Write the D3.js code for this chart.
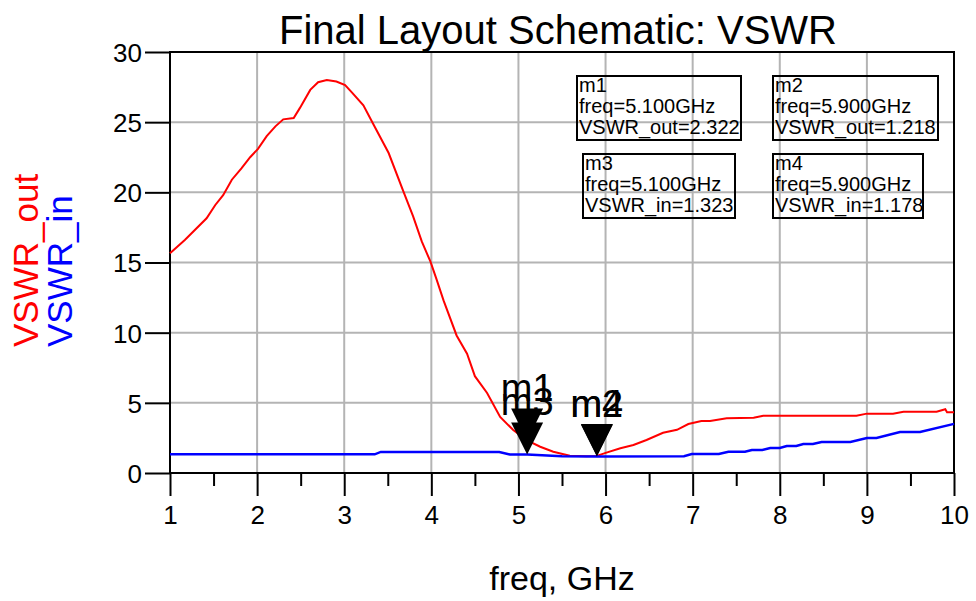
<!DOCTYPE html>
<html>
<head>
<meta charset="utf-8">
<script src="https://cdn.jsdelivr.net/npm/d3@7"></script>
<style>
  body { margin: 0; background: #fff; }
  text { font-family: "Liberation Sans", Arial, sans-serif; }
</style>
</head>
<body>
<div id="chart"></div>
<script>
// data
const outFreq = [1.00, 1.17, 1.42, 1.52, 1.61, 1.71, 1.82, 1.92, 2.01, 2.11, 2.21, 2.30, 2.42, 2.49, 2.61, 2.70, 2.80, 2.91, 3.01, 3.09, 3.22, 3.33, 3.51, 3.68, 3.79, 3.89, 3.99, 4.06, 4.14, 4.29, 4.41, 4.50, 4.64, 4.79, 4.94, 5.10, 5.25, 5.40, 5.59, 5.78, 5.90, 6.01, 6.17, 6.32, 6.47, 6.66, 6.82, 6.95, 7.10, 7.20, 7.39, 7.70, 7.81, 8.88, 9.00, 9.30, 9.42, 9.80, 9.90, 9.92, 10.0];
const outVswr = [15.66, 16.6, 18.15, 19.1, 19.8, 20.9, 21.7, 22.5, 23.1, 24.0, 24.7, 25.2, 25.3, 26.0, 27.3, 27.85, 28.0, 27.9, 27.65, 27.1, 26.2, 24.9, 22.8, 20.05, 18.3, 16.5, 15.06, 13.8, 12.3, 9.8, 8.5, 6.9, 5.7, 4.0, 3.06, 2.32, 1.87, 1.52, 1.23, 1.2, 1.22, 1.45, 1.76, 2.0, 2.35, 2.87, 3.08, 3.49, 3.7, 3.7, 3.9, 3.94, 4.08, 4.08, 4.23, 4.23, 4.37, 4.37, 4.54, 4.33, 4.33];

const inFreq = [1.0, 3.35, 3.42, 4.78, 4.90, 5.10, 5.50, 5.90, 6.90, 6.99, 7.30, 7.41, 7.60, 7.68, 7.80, 7.89, 8.00, 8.08, 8.19, 8.27, 8.38, 8.48, 8.81, 9.00, 9.11, 9.38, 9.61, 10.0];
const inVswr = [1.33, 1.33, 1.5, 1.5, 1.32, 1.323, 1.2, 1.178, 1.2, 1.35, 1.35, 1.52, 1.52, 1.64, 1.64, 1.78, 1.78, 1.92, 1.92, 2.07, 2.07, 2.21, 2.21, 2.49, 2.49, 2.92, 2.92, 3.5];

const markerNames = ["m1", "m2", "m3", "m4"];
const markerFreq = [5.1, 5.9, 5.1, 5.9];
const markerVal = [2.322, 1.218, 1.323, 1.178];
const markerSeries = ["VSWR_out", "VSWR_out", "VSWR_in", "VSWR_in"];

const xTicks = [1, 2, 3, 4, 5, 6, 7, 8, 9, 10];
const xMinorTicks = [1.5, 2.5, 3.5, 4.5, 5.5, 6.5, 7.5, 8.5, 9.5];
const yTicks = [0, 5, 10, 15, 20, 25, 30];

const W = 976, H = 601;
const margin = { top: 52, right: 22, bottom: 128, left: 170 };
const width = W - margin.left - margin.right;
const height = H - margin.top - margin.bottom;

const svg = d3.select("#chart").append("svg")
    .attr("width", W)
    .attr("height", H);

const g = svg.append("g")
    .attr("transform", `translate(${margin.left}, ${margin.top})`);

const x = d3.scaleLinear().domain([1, 10]).range([0, width]);
const y = d3.scaleLinear().domain([0, 30]).range([height, 0]);

// grid
g.append("g").selectAll("line")
    .data(xTicks.slice(1, -1))
    .join("line")
    .attr("x1", d => x(d)).attr("x2", d => x(d))
    .attr("y1", 0).attr("y2", height)
    .attr("stroke", "#b4b4b4").attr("stroke-width", 2);

g.append("g").selectAll("line")
    .data(yTicks.slice(1, -1))
    .join("line")
    .attr("x1", 0).attr("x2", width)
    .attr("y1", d => y(d)).attr("y2", d => y(d))
    .attr("stroke", "#b4b4b4").attr("stroke-width", 2);

// axes
const xAxis = g.append("g")
    .attr("transform", `translate(0, ${height})`)
    .call(d3.axisBottom(x).tickValues(xTicks).tickSize(23).tickSizeOuter(0).tickPadding(10).tickFormat(d3.format("d")));

g.append("g")
    .attr("transform", `translate(0, ${height})`)
    .call(d3.axisBottom(x).tickValues(xMinorTicks).tickSize(13).tickSizeOuter(0).tickFormat(""))
    .call(a => a.select(".domain").remove());

const yAxis = g.append("g")
    .call(d3.axisLeft(y).tickValues(yTicks).tickSize(25).tickSizeOuter(0).tickPadding(3));

g.selectAll(".tick line").attr("stroke", "#000").attr("stroke-width", 2);
g.selectAll(".domain").remove();
g.selectAll(".tick text")
    .attr("fill", "#000")
    .style("font-size", "26px")
    .style("font-family", "'Liberation Sans', Arial, sans-serif");
yAxis.selectAll(".tick text").attr("dy", "0.36em");

// frame
g.append("rect")
    .attr("width", width).attr("height", height)
    .attr("fill", "none").attr("stroke", "#000").attr("stroke-width", 2);

// lines
const line = d3.line()
    .x(d => x(d[0]))
    .y(d => y(d[1]));

g.append("path")
    .datum(d3.zip(outFreq, outVswr))
    .attr("fill", "none")
    .attr("stroke", "#ff0000")
    .attr("stroke-width", 2)
    .attr("d", line);

g.append("path")
    .datum(d3.zip(inFreq, inVswr))
    .attr("fill", "none")
    .attr("stroke", "#0000ff")
    .attr("stroke-width", 2.5)
    .attr("d", line);

// marker triangles + labels
const triH = 32, triW = 32;
markerNames.forEach((name, i) => {
    const mx = x(markerFreq[i]), my = y(markerVal[i]);
    g.append("path")
        .attr("d", `M${mx},${my} L${mx - triW / 2},${my - triH} L${mx + triW / 2},${my - triH} Z`)
        .attr("fill", "#000");
    g.append("text")
        .attr("x", mx)
        .attr("y", my - triH - 7)
        .attr("text-anchor", "middle")
        .style("font-size", "38px")
        .text(name);
});

// marker readout boxes (positions in plot coords)
const boxes = [
    { x: 407, y: 24, w: 164, h: 64 },
    { x: 603, y: 24, w: 165, h: 64 },
    { x: 413, y: 102, w: 152, h: 64 },
    { x: 603, y: 102, w: 150, h: 64 }
];
markerNames.forEach((name, i) => {
    const b = boxes[i];
    g.append("rect")
        .attr("x", b.x).attr("y", b.y)
        .attr("width", b.w).attr("height", b.h)
        .attr("fill", "none").attr("stroke", "#000").attr("stroke-width", 2);
    const lines = [name, `freq=${markerFreq[i].toFixed(3)}GHz`, `${markerSeries[i]}=${markerVal[i].toFixed(3)}`];
    g.append("text")
        .attr("x", b.x + 2)
        .attr("y", b.y + 16)
        .style("font-size", "20px")
        .selectAll("tspan")
        .data(lines)
        .join("tspan")
        .attr("x", b.x + 2)
        .attr("dy", (d, j) => j === 0 ? 0 : 21)
        .text(d => d);
});

// title and axis labels
svg.append("text")
    .attr("x", margin.left + width / 2 - 4)
    .attr("y", 44)
    .attr("text-anchor", "middle")
    .style("font-size", "40px")
    .text("Final Layout Schematic: VSWR");

svg.append("text")
    .attr("x", margin.left + width / 2)
    .attr("y", 590)
    .attr("text-anchor", "middle")
    .style("font-size", "34px")
    .text("freq, GHz");

svg.append("text")
    .attr("transform", "translate(38, 347) rotate(-90)")
    .attr("fill", "#ff0000")
    .style("font-size", "35px")
    .text("VSWR_out");

svg.append("text")
    .attr("transform", "translate(72, 347) rotate(-90)")
    .attr("fill", "#0000ff")
    .style("font-size", "35px")
    .text("VSWR_in");
</script>
</body>
</html>
